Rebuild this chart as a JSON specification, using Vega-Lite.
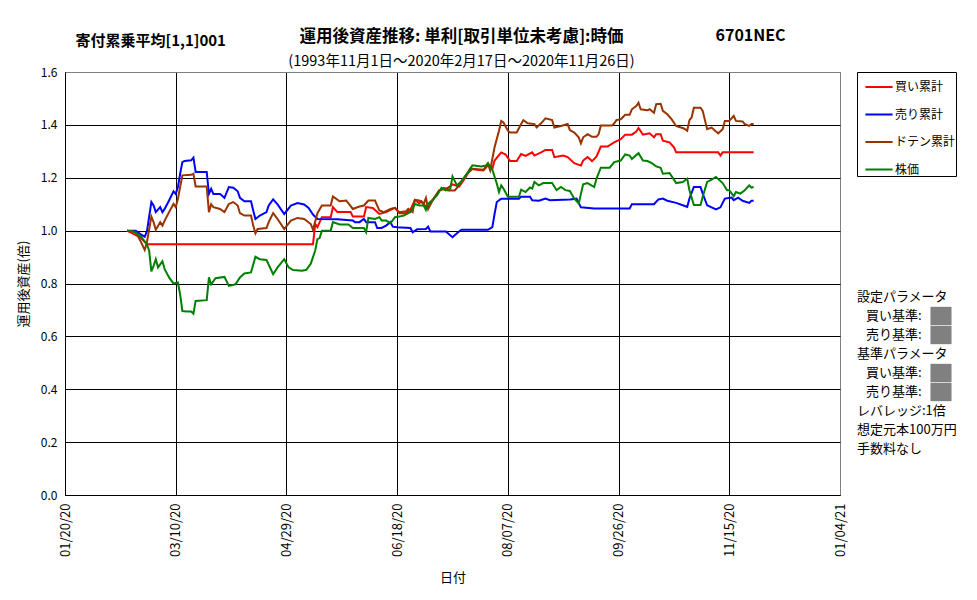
{
  "$schema": "https://vega.github.io/schema/vega-lite/v6.json",
  "autosize": "none",
  "width": 775,
  "height": 423,
  "padding": {"left": 65, "top": 72, "right": 137, "bottom": 105},
  "background": "white",
  "config": {
    "font": "Noto Sans CJK JP",
    "view": {"stroke": "#808080", "strokeWidth": 1}
  },
  "title": {
    "text": "運用後資産推移: 単利[取引単位未考慮]:時価",
    "subtitle": "(1993年11月1日～2020年2月17日～2020年11月26日)",
    "anchor": "middle",
    "frame": "group",
    "dx": 9,
    "offset": -41,
    "fontSize": 16.5,
    "fontWeight": "bold",
    "color": "black",
    "subtitleFontSize": 14.5,
    "subtitleColor": "black",
    "subtitlePadding": 9
  },
  "resolve": {"axis": {"x": "independent", "y": "independent"}},
  "layer": [
    {
      "data": {
        "values": [
          {"series": "買い累計", "date": "2020-02-17", "value": 1.000},
          {"series": "買い累計", "date": "2020-02-23", "value": 0.975},
          {"series": "買い累計", "date": "2020-02-26", "value": 0.948},
          {"series": "買い累計", "date": "2020-05-11", "value": 0.948},
          {"series": "買い累計", "date": "2020-05-12", "value": 1.025},
          {"series": "買い累計", "date": "2020-05-13", "value": 1.013},
          {"series": "買い累計", "date": "2020-05-15", "value": 1.051},
          {"series": "買い累計", "date": "2020-05-19", "value": 1.051},
          {"series": "買い累計", "date": "2020-05-20", "value": 1.089},
          {"series": "買い累計", "date": "2020-05-22", "value": 1.070},
          {"series": "買い累計", "date": "2020-05-28", "value": 1.070},
          {"series": "買い累計", "date": "2020-05-29", "value": 1.053},
          {"series": "買い累計", "date": "2020-06-03", "value": 1.053},
          {"series": "買い累計", "date": "2020-06-04", "value": 1.089},
          {"series": "買い累計", "date": "2020-06-07", "value": 1.086},
          {"series": "買い累計", "date": "2020-06-10", "value": 1.063},
          {"series": "買い累計", "date": "2020-06-13", "value": 1.070},
          {"series": "買い累計", "date": "2020-06-16", "value": 1.082},
          {"series": "買い累計", "date": "2020-06-17", "value": 1.086},
          {"series": "買い累計", "date": "2020-06-19", "value": 1.066},
          {"series": "買い累計", "date": "2020-06-22", "value": 1.066},
          {"series": "買い累計", "date": "2020-06-24", "value": 1.078},
          {"series": "買い累計", "date": "2020-06-26", "value": 1.116},
          {"series": "買い累計", "date": "2020-06-28", "value": 1.104},
          {"series": "買い累計", "date": "2020-06-29", "value": 1.111},
          {"series": "買い累計", "date": "2020-07-01", "value": 1.089},
          {"series": "買い累計", "date": "2020-07-04", "value": 1.116},
          {"series": "買い累計", "date": "2020-07-07", "value": 1.152},
          {"series": "買い累計", "date": "2020-07-11", "value": 1.162},
          {"series": "買い累計", "date": "2020-07-13", "value": 1.175},
          {"series": "買い累計", "date": "2020-07-16", "value": 1.167},
          {"series": "買い累計", "date": "2020-07-19", "value": 1.203},
          {"series": "買い累計", "date": "2020-07-21", "value": 1.234},
          {"series": "買い累計", "date": "2020-07-24", "value": 1.230},
          {"series": "買い累計", "date": "2020-07-27", "value": 1.228},
          {"series": "買い累計", "date": "2020-07-29", "value": 1.247},
          {"series": "買い累計", "date": "2020-07-31", "value": 1.234},
          {"series": "買い累計", "date": "2020-08-01", "value": 1.265},
          {"series": "買い累計", "date": "2020-08-04", "value": 1.296},
          {"series": "買い累計", "date": "2020-08-06", "value": 1.288},
          {"series": "買い累計", "date": "2020-08-08", "value": 1.263},
          {"series": "買い累計", "date": "2020-08-11", "value": 1.263},
          {"series": "買い累計", "date": "2020-08-13", "value": 1.290},
          {"series": "買い累計", "date": "2020-08-15", "value": 1.283},
          {"series": "買い累計", "date": "2020-08-18", "value": 1.296},
          {"series": "買い累計", "date": "2020-08-19", "value": 1.284},
          {"series": "買い累計", "date": "2020-08-22", "value": 1.296},
          {"series": "買い累計", "date": "2020-08-24", "value": 1.305},
          {"series": "買い累計", "date": "2020-08-27", "value": 1.305},
          {"series": "買い累計", "date": "2020-08-28", "value": 1.278},
          {"series": "買い累計", "date": "2020-09-01", "value": 1.284},
          {"series": "買い累計", "date": "2020-09-03", "value": 1.278},
          {"series": "買い累計", "date": "2020-09-06", "value": 1.255},
          {"series": "買い累計", "date": "2020-09-09", "value": 1.246},
          {"series": "買い累計", "date": "2020-09-10", "value": 1.265},
          {"series": "買い累計", "date": "2020-09-12", "value": 1.278},
          {"series": "買い累計", "date": "2020-09-14", "value": 1.263},
          {"series": "買い累計", "date": "2020-09-16", "value": 1.280},
          {"series": "買い累計", "date": "2020-09-18", "value": 1.318},
          {"series": "買い累計", "date": "2020-09-21", "value": 1.318},
          {"series": "買い累計", "date": "2020-09-24", "value": 1.334},
          {"series": "買い累計", "date": "2020-09-27", "value": 1.346},
          {"series": "買い累計", "date": "2020-09-29", "value": 1.363},
          {"series": "買い累計", "date": "2020-10-02", "value": 1.363},
          {"series": "買い累計", "date": "2020-10-04", "value": 1.375},
          {"series": "買い累計", "date": "2020-10-05", "value": 1.388},
          {"series": "買い累計", "date": "2020-10-07", "value": 1.363},
          {"series": "買い累計", "date": "2020-10-10", "value": 1.368},
          {"series": "買い累計", "date": "2020-10-12", "value": 1.353},
          {"series": "買い累計", "date": "2020-10-13", "value": 1.365},
          {"series": "買い累計", "date": "2020-10-15", "value": 1.365},
          {"series": "買い累計", "date": "2020-10-16", "value": 1.340},
          {"series": "買い累計", "date": "2020-10-19", "value": 1.334},
          {"series": "買い累計", "date": "2020-10-21", "value": 1.315},
          {"series": "買い累計", "date": "2020-10-22", "value": 1.296},
          {"series": "買い累計", "date": "2020-11-10", "value": 1.296},
          {"series": "買い累計", "date": "2020-11-11", "value": 1.284},
          {"series": "買い累計", "date": "2020-11-12", "value": 1.296},
          {"series": "買い累計", "date": "2020-11-26", "value": 1.296},

          {"series": "売り累計", "date": "2020-02-17", "value": 1.000},
          {"series": "売り累計", "date": "2020-02-21", "value": 1.000},
          {"series": "売り累計", "date": "2020-02-23", "value": 0.987},
          {"series": "売り累計", "date": "2020-02-25", "value": 0.977},
          {"series": "売り累計", "date": "2020-02-26", "value": 0.997},
          {"series": "売り累計", "date": "2020-02-28", "value": 1.108},
          {"series": "売り累計", "date": "2020-02-29", "value": 1.095},
          {"series": "売り累計", "date": "2020-03-01", "value": 1.070},
          {"series": "売り累計", "date": "2020-03-03", "value": 1.089},
          {"series": "売り累計", "date": "2020-03-04", "value": 1.070},
          {"series": "売り累計", "date": "2020-03-05", "value": 1.082},
          {"series": "売り累計", "date": "2020-03-07", "value": 1.114},
          {"series": "売り累計", "date": "2020-03-09", "value": 1.149},
          {"series": "売り累計", "date": "2020-03-10", "value": 1.139},
          {"series": "売り累計", "date": "2020-03-11", "value": 1.165},
          {"series": "売り累計", "date": "2020-03-12", "value": 1.215},
          {"series": "売り累計", "date": "2020-03-13", "value": 1.259},
          {"series": "売り累計", "date": "2020-03-14", "value": 1.263},
          {"series": "売り累計", "date": "2020-03-17", "value": 1.266},
          {"series": "売り累計", "date": "2020-03-18", "value": 1.276},
          {"series": "売り累計", "date": "2020-03-19", "value": 1.222},
          {"series": "売り累計", "date": "2020-03-24", "value": 1.222},
          {"series": "売り累計", "date": "2020-03-25", "value": 1.139},
          {"series": "売り累計", "date": "2020-03-26", "value": 1.158},
          {"series": "売り累計", "date": "2020-03-27", "value": 1.139},
          {"series": "売り累計", "date": "2020-03-30", "value": 1.139},
          {"series": "売り累計", "date": "2020-04-01", "value": 1.124},
          {"series": "売り累計", "date": "2020-04-03", "value": 1.165},
          {"series": "売り累計", "date": "2020-04-05", "value": 1.162},
          {"series": "売り累計", "date": "2020-04-07", "value": 1.149},
          {"series": "売り累計", "date": "2020-04-08", "value": 1.124},
          {"series": "売り累計", "date": "2020-04-10", "value": 1.111},
          {"series": "売り累計", "date": "2020-04-13", "value": 1.111},
          {"series": "売り累計", "date": "2020-04-14", "value": 1.076},
          {"series": "売り累計", "date": "2020-04-15", "value": 1.044},
          {"series": "売り累計", "date": "2020-04-17", "value": 1.057},
          {"series": "売り累計", "date": "2020-04-20", "value": 1.070},
          {"series": "売り累計", "date": "2020-04-21", "value": 1.095},
          {"series": "売り累計", "date": "2020-04-23", "value": 1.118},
          {"series": "売り累計", "date": "2020-04-25", "value": 1.099},
          {"series": "売り累計", "date": "2020-04-28", "value": 1.063},
          {"series": "売り累計", "date": "2020-05-01", "value": 1.095},
          {"series": "売り累計", "date": "2020-05-04", "value": 1.104},
          {"series": "売り累計", "date": "2020-05-07", "value": 1.099},
          {"series": "売り累計", "date": "2020-05-09", "value": 1.086},
          {"series": "売り累計", "date": "2020-05-11", "value": 1.061},
          {"series": "売り累計", "date": "2020-05-13", "value": 1.044},
          {"series": "売り累計", "date": "2020-05-22", "value": 1.043},
          {"series": "売り累計", "date": "2020-05-29", "value": 1.038},
          {"series": "売り累計", "date": "2020-05-30", "value": 1.032},
          {"series": "売り累計", "date": "2020-06-01", "value": 1.032},
          {"series": "売り累計", "date": "2020-06-03", "value": 1.044},
          {"series": "売り累計", "date": "2020-06-04", "value": 1.032},
          {"series": "売り累計", "date": "2020-06-08", "value": 1.032},
          {"series": "売り累計", "date": "2020-06-09", "value": 1.010},
          {"series": "売り累計", "date": "2020-06-11", "value": 1.010},
          {"series": "売り累計", "date": "2020-06-13", "value": 1.019},
          {"series": "売り累計", "date": "2020-06-15", "value": 1.032},
          {"series": "売り累計", "date": "2020-06-16", "value": 1.015},
          {"series": "売り累計", "date": "2020-06-18", "value": 1.013},
          {"series": "売り累計", "date": "2020-06-24", "value": 1.010},
          {"series": "売り累計", "date": "2020-06-25", "value": 0.994},
          {"series": "売り累計", "date": "2020-06-27", "value": 1.005},
          {"series": "売り累計", "date": "2020-07-01", "value": 1.006},
          {"series": "売り累計", "date": "2020-07-02", "value": 1.015},
          {"series": "売り累計", "date": "2020-07-03", "value": 0.997},
          {"series": "売り累計", "date": "2020-07-10", "value": 0.997},
          {"series": "売り累計", "date": "2020-07-13", "value": 0.975},
          {"series": "売り累計", "date": "2020-07-15", "value": 0.990},
          {"series": "売り累計", "date": "2020-07-17", "value": 1.003},
          {"series": "売り累計", "date": "2020-07-29", "value": 1.003},
          {"series": "売り累計", "date": "2020-07-31", "value": 1.013},
          {"series": "売り累計", "date": "2020-08-01", "value": 1.063},
          {"series": "売り累計", "date": "2020-08-02", "value": 1.108},
          {"series": "売り累計", "date": "2020-08-04", "value": 1.121},
          {"series": "売り累計", "date": "2020-08-12", "value": 1.121},
          {"series": "売り累計", "date": "2020-08-13", "value": 1.128},
          {"series": "売り累計", "date": "2020-08-17", "value": 1.128},
          {"series": "売り累計", "date": "2020-08-18", "value": 1.115},
          {"series": "売り累計", "date": "2020-08-21", "value": 1.113},
          {"series": "売り累計", "date": "2020-08-24", "value": 1.121},
          {"series": "売り累計", "date": "2020-08-26", "value": 1.115},
          {"series": "売り累計", "date": "2020-09-04", "value": 1.118},
          {"series": "売り累計", "date": "2020-09-07", "value": 1.121},
          {"series": "売り累計", "date": "2020-09-09", "value": 1.088},
          {"series": "売り累計", "date": "2020-09-15", "value": 1.084},
          {"series": "売り累計", "date": "2020-10-01", "value": 1.084},
          {"series": "売り累計", "date": "2020-10-02", "value": 1.100},
          {"series": "売り累計", "date": "2020-10-12", "value": 1.100},
          {"series": "売り累計", "date": "2020-10-14", "value": 1.118},
          {"series": "売り累計", "date": "2020-10-16", "value": 1.121},
          {"series": "売り累計", "date": "2020-10-18", "value": 1.113},
          {"series": "売り累計", "date": "2020-10-22", "value": 1.105},
          {"series": "売り累計", "date": "2020-10-25", "value": 1.096},
          {"series": "売り累計", "date": "2020-10-27", "value": 1.090},
          {"series": "売り累計", "date": "2020-10-28", "value": 1.121},
          {"series": "売り累計", "date": "2020-10-30", "value": 1.165},
          {"series": "売り累計", "date": "2020-11-02", "value": 1.165},
          {"series": "売り累計", "date": "2020-11-03", "value": 1.140},
          {"series": "売り累計", "date": "2020-11-05", "value": 1.096},
          {"series": "売り累計", "date": "2020-11-07", "value": 1.088},
          {"series": "売り累計", "date": "2020-11-09", "value": 1.080},
          {"series": "売り累計", "date": "2020-11-11", "value": 1.088},
          {"series": "売り累計", "date": "2020-11-13", "value": 1.121},
          {"series": "売り累計", "date": "2020-11-16", "value": 1.125},
          {"series": "売り累計", "date": "2020-11-17", "value": 1.115},
          {"series": "売り累計", "date": "2020-11-19", "value": 1.125},
          {"series": "売り累計", "date": "2020-11-21", "value": 1.113},
          {"series": "売り累計", "date": "2020-11-24", "value": 1.105},
          {"series": "売り累計", "date": "2020-11-25", "value": 1.113},
          {"series": "売り累計", "date": "2020-11-26", "value": 1.113},

          {"series": "ドテン累計", "date": "2020-02-17", "value": 1.000},
          {"series": "ドテン累計", "date": "2020-02-21", "value": 0.994},
          {"series": "ドテン累計", "date": "2020-02-23", "value": 0.962},
          {"series": "ドテン累計", "date": "2020-02-25", "value": 0.927},
          {"series": "ドテン累計", "date": "2020-02-26", "value": 0.956},
          {"series": "ドテン累計", "date": "2020-02-28", "value": 1.053},
          {"series": "ドテン累計", "date": "2020-02-29", "value": 1.032},
          {"series": "ドテン累計", "date": "2020-03-01", "value": 1.003},
          {"series": "ドテン累計", "date": "2020-03-03", "value": 1.032},
          {"series": "ドテン累計", "date": "2020-03-04", "value": 1.019},
          {"series": "ドテン累計", "date": "2020-03-05", "value": 1.038},
          {"series": "ドテン累計", "date": "2020-03-07", "value": 1.070},
          {"series": "ドテン累計", "date": "2020-03-09", "value": 1.101},
          {"series": "ドテン累計", "date": "2020-03-10", "value": 1.089},
          {"series": "ドテン累計", "date": "2020-03-11", "value": 1.120},
          {"series": "ドテン累計", "date": "2020-03-12", "value": 1.165},
          {"series": "ドテン累計", "date": "2020-03-13", "value": 1.209},
          {"series": "ドテン累計", "date": "2020-03-17", "value": 1.211},
          {"series": "ドテン累計", "date": "2020-03-18", "value": 1.215},
          {"series": "ドテン累計", "date": "2020-03-19", "value": 1.167},
          {"series": "ドテン累計", "date": "2020-03-24", "value": 1.167},
          {"series": "ドテン累計", "date": "2020-03-25", "value": 1.070},
          {"series": "ドテン累計", "date": "2020-03-26", "value": 1.100},
          {"series": "ドテン累計", "date": "2020-03-27", "value": 1.089},
          {"series": "ドテン累計", "date": "2020-03-30", "value": 1.082},
          {"series": "ドテン累計", "date": "2020-04-01", "value": 1.070},
          {"series": "ドテン累計", "date": "2020-04-03", "value": 1.101},
          {"series": "ドテン累計", "date": "2020-04-05", "value": 1.108},
          {"series": "ドテン累計", "date": "2020-04-07", "value": 1.095},
          {"series": "ドテン累計", "date": "2020-04-08", "value": 1.066},
          {"series": "ドテン累計", "date": "2020-04-10", "value": 1.057},
          {"series": "ドテン累計", "date": "2020-04-13", "value": 1.057},
          {"series": "ドテン累計", "date": "2020-04-14", "value": 1.019},
          {"series": "ドテン累計", "date": "2020-04-15", "value": 0.990},
          {"series": "ドテン累計", "date": "2020-04-16", "value": 1.006},
          {"series": "ドテン累計", "date": "2020-04-20", "value": 1.010},
          {"series": "ドテン累計", "date": "2020-04-21", "value": 1.032},
          {"series": "ドテン累計", "date": "2020-04-23", "value": 1.066},
          {"series": "ドテン累計", "date": "2020-04-25", "value": 1.044},
          {"series": "ドテン累計", "date": "2020-04-28", "value": 1.006},
          {"series": "ドテン累計", "date": "2020-05-01", "value": 1.038},
          {"series": "ドテン累計", "date": "2020-05-04", "value": 1.048},
          {"series": "ドテン累計", "date": "2020-05-07", "value": 1.044},
          {"series": "ドテン累計", "date": "2020-05-10", "value": 1.025},
          {"series": "ドテン累計", "date": "2020-05-11", "value": 1.003},
          {"series": "ドテン累計", "date": "2020-05-13", "value": 1.066},
          {"series": "ドテン累計", "date": "2020-05-15", "value": 1.095},
          {"series": "ドテン累計", "date": "2020-05-19", "value": 1.095},
          {"series": "ドテン累計", "date": "2020-05-20", "value": 1.129},
          {"series": "ドテン累計", "date": "2020-05-23", "value": 1.111},
          {"series": "ドテン累計", "date": "2020-05-26", "value": 1.114},
          {"series": "ドテン累計", "date": "2020-05-29", "value": 1.082},
          {"series": "ドテン累計", "date": "2020-06-01", "value": 1.091},
          {"series": "ドテン累計", "date": "2020-06-03", "value": 1.095},
          {"series": "ドテン累計", "date": "2020-06-05", "value": 1.114},
          {"series": "ドテン累計", "date": "2020-06-08", "value": 1.114},
          {"series": "ドテン累計", "date": "2020-06-10", "value": 1.076},
          {"series": "ドテン累計", "date": "2020-06-12", "value": 1.070},
          {"series": "ドテン累計", "date": "2020-06-15", "value": 1.082},
          {"series": "ドテン累計", "date": "2020-06-17", "value": 1.086},
          {"series": "ドテン累計", "date": "2020-06-19", "value": 1.070},
          {"series": "ドテン累計", "date": "2020-06-22", "value": 1.073},
          {"series": "ドテン累計", "date": "2020-06-23", "value": 1.082},
          {"series": "ドテン累計", "date": "2020-06-25", "value": 1.070},
          {"series": "ドテン累計", "date": "2020-06-26", "value": 1.116},
          {"series": "ドテン累計", "date": "2020-06-28", "value": 1.114},
          {"series": "ドテン累計", "date": "2020-06-30", "value": 1.101},
          {"series": "ドテン累計", "date": "2020-07-01", "value": 1.124},
          {"series": "ドテン累計", "date": "2020-07-02", "value": 1.082},
          {"series": "ドテン累計", "date": "2020-07-04", "value": 1.114},
          {"series": "ドテン累計", "date": "2020-07-07", "value": 1.152},
          {"series": "ドテン累計", "date": "2020-07-09", "value": 1.162},
          {"series": "ドテン累計", "date": "2020-07-11", "value": 1.152},
          {"series": "ドテン累計", "date": "2020-07-14", "value": 1.152},
          {"series": "ドテン累計", "date": "2020-07-16", "value": 1.171},
          {"series": "ドテン累計", "date": "2020-07-19", "value": 1.209},
          {"series": "ドテン累計", "date": "2020-07-22", "value": 1.234},
          {"series": "ドテン累計", "date": "2020-07-27", "value": 1.230},
          {"series": "ドテン累計", "date": "2020-07-29", "value": 1.253},
          {"series": "ドテン累計", "date": "2020-07-30", "value": 1.228},
          {"series": "ドテン累計", "date": "2020-08-01", "value": 1.315},
          {"series": "ドテン累計", "date": "2020-08-03", "value": 1.378},
          {"series": "ドテン累計", "date": "2020-08-04", "value": 1.415},
          {"series": "ドテン累計", "date": "2020-08-05", "value": 1.409},
          {"series": "ドテン累計", "date": "2020-08-07", "value": 1.378},
          {"series": "ドテン累計", "date": "2020-08-08", "value": 1.371},
          {"series": "ドテン累計", "date": "2020-08-11", "value": 1.371},
          {"series": "ドテン累計", "date": "2020-08-13", "value": 1.403},
          {"series": "ドテン累計", "date": "2020-08-14", "value": 1.418},
          {"series": "ドテン累計", "date": "2020-08-16", "value": 1.406},
          {"series": "ドテン累計", "date": "2020-08-19", "value": 1.403},
          {"series": "ドテン累計", "date": "2020-08-20", "value": 1.390},
          {"series": "ドテン累計", "date": "2020-08-22", "value": 1.406},
          {"series": "ドテン累計", "date": "2020-08-24", "value": 1.425},
          {"series": "ドテン累計", "date": "2020-08-27", "value": 1.418},
          {"series": "ドテン累計", "date": "2020-08-28", "value": 1.390},
          {"series": "ドテン累計", "date": "2020-08-31", "value": 1.396},
          {"series": "ドテン累計", "date": "2020-09-03", "value": 1.403},
          {"series": "ドテン累計", "date": "2020-09-04", "value": 1.380},
          {"series": "ドテン累計", "date": "2020-09-06", "value": 1.371},
          {"series": "ドテン累計", "date": "2020-09-08", "value": 1.353},
          {"series": "ドテン累計", "date": "2020-09-09", "value": 1.330},
          {"series": "ドテン累計", "date": "2020-09-10", "value": 1.353},
          {"series": "ドテン累計", "date": "2020-09-12", "value": 1.365},
          {"series": "ドテン累計", "date": "2020-09-14", "value": 1.355},
          {"series": "ドテン累計", "date": "2020-09-16", "value": 1.355},
          {"series": "ドテン累計", "date": "2020-09-17", "value": 1.365},
          {"series": "ドテン累計", "date": "2020-09-18", "value": 1.398},
          {"series": "ドテン累計", "date": "2020-09-23", "value": 1.398},
          {"series": "ドテン累計", "date": "2020-09-24", "value": 1.405},
          {"series": "ドテン累計", "date": "2020-09-25", "value": 1.418},
          {"series": "ドテン累計", "date": "2020-09-27", "value": 1.421},
          {"series": "ドテン累計", "date": "2020-09-29", "value": 1.438},
          {"series": "ドテン累計", "date": "2020-10-01", "value": 1.438},
          {"series": "ドテン累計", "date": "2020-10-02", "value": 1.459},
          {"series": "ドテン累計", "date": "2020-10-04", "value": 1.471},
          {"series": "ドテン累計", "date": "2020-10-05", "value": 1.484},
          {"series": "ドテン累計", "date": "2020-10-06", "value": 1.459},
          {"series": "ドテン累計", "date": "2020-10-09", "value": 1.455},
          {"series": "ドテン累計", "date": "2020-10-10", "value": 1.459},
          {"series": "ドテン累計", "date": "2020-10-12", "value": 1.446},
          {"series": "ドテン累計", "date": "2020-10-13", "value": 1.478},
          {"series": "ドテン累計", "date": "2020-10-15", "value": 1.480},
          {"series": "ドテン累計", "date": "2020-10-16", "value": 1.453},
          {"series": "ドテン累計", "date": "2020-10-18", "value": 1.440},
          {"series": "ドテン累計", "date": "2020-10-20", "value": 1.421},
          {"series": "ドテン累計", "date": "2020-10-22", "value": 1.396},
          {"series": "ドテン累計", "date": "2020-10-23", "value": 1.393},
          {"series": "ドテン累計", "date": "2020-10-25", "value": 1.388},
          {"series": "ドテン累計", "date": "2020-10-26", "value": 1.384},
          {"series": "ドテン累計", "date": "2020-10-27", "value": 1.378},
          {"series": "ドテン累計", "date": "2020-10-28", "value": 1.418},
          {"series": "ドテン累計", "date": "2020-10-29", "value": 1.428},
          {"series": "ドテン累計", "date": "2020-10-30", "value": 1.465},
          {"series": "ドテン累計", "date": "2020-11-02", "value": 1.465},
          {"series": "ドテン累計", "date": "2020-11-03", "value": 1.453},
          {"series": "ドテン累計", "date": "2020-11-04", "value": 1.418},
          {"series": "ドテン累計", "date": "2020-11-05", "value": 1.384},
          {"series": "ドテン累計", "date": "2020-11-07", "value": 1.390},
          {"series": "ドテン累計", "date": "2020-11-09", "value": 1.375},
          {"series": "ドテン累計", "date": "2020-11-10", "value": 1.368},
          {"series": "ドテン累計", "date": "2020-11-12", "value": 1.384},
          {"series": "ドテン累計", "date": "2020-11-13", "value": 1.415},
          {"series": "ドテン累計", "date": "2020-11-15", "value": 1.415},
          {"series": "ドテン累計", "date": "2020-11-17", "value": 1.434},
          {"series": "ドテン累計", "date": "2020-11-18", "value": 1.415},
          {"series": "ドテン累計", "date": "2020-11-21", "value": 1.413},
          {"series": "ドテン累計", "date": "2020-11-22", "value": 1.403},
          {"series": "ドテン累計", "date": "2020-11-24", "value": 1.396},
          {"series": "ドテン累計", "date": "2020-11-25", "value": 1.403},
          {"series": "ドテン累計", "date": "2020-11-26", "value": 1.403},

          {"series": "株価", "date": "2020-02-17", "value": 1.000},
          {"series": "株価", "date": "2020-02-20", "value": 0.997},
          {"series": "株価", "date": "2020-02-23", "value": 0.981},
          {"series": "株価", "date": "2020-02-26", "value": 0.949},
          {"series": "株価", "date": "2020-02-27", "value": 0.924},
          {"series": "株価", "date": "2020-02-28", "value": 0.846},
          {"series": "株価", "date": "2020-02-29", "value": 0.867},
          {"series": "株価", "date": "2020-03-01", "value": 0.892},
          {"series": "株価", "date": "2020-03-02", "value": 0.861},
          {"series": "株価", "date": "2020-03-04", "value": 0.884},
          {"series": "株価", "date": "2020-03-05", "value": 0.854},
          {"series": "株価", "date": "2020-03-07", "value": 0.823},
          {"series": "株価", "date": "2020-03-09", "value": 0.800},
          {"series": "株価", "date": "2020-03-11", "value": 0.804},
          {"series": "株価", "date": "2020-03-12", "value": 0.759},
          {"series": "株価", "date": "2020-03-13", "value": 0.696},
          {"series": "株価", "date": "2020-03-15", "value": 0.694},
          {"series": "株価", "date": "2020-03-17", "value": 0.694},
          {"series": "株価", "date": "2020-03-18", "value": 0.686},
          {"series": "株価", "date": "2020-03-19", "value": 0.734},
          {"series": "株価", "date": "2020-03-24", "value": 0.737},
          {"series": "株価", "date": "2020-03-25", "value": 0.823},
          {"series": "株価", "date": "2020-03-26", "value": 0.797},
          {"series": "株価", "date": "2020-03-28", "value": 0.820},
          {"series": "株価", "date": "2020-04-01", "value": 0.825},
          {"series": "株価", "date": "2020-04-03", "value": 0.791},
          {"series": "株価", "date": "2020-04-06", "value": 0.797},
          {"series": "株価", "date": "2020-04-08", "value": 0.823},
          {"series": "株価", "date": "2020-04-10", "value": 0.838},
          {"series": "株価", "date": "2020-04-13", "value": 0.842},
          {"series": "株価", "date": "2020-04-15", "value": 0.901},
          {"series": "株価", "date": "2020-04-17", "value": 0.892},
          {"series": "株価", "date": "2020-04-20", "value": 0.889},
          {"series": "株価", "date": "2020-04-23", "value": 0.835},
          {"series": "株価", "date": "2020-04-25", "value": 0.861},
          {"series": "株価", "date": "2020-04-28", "value": 0.892},
          {"series": "株価", "date": "2020-04-30", "value": 0.861},
          {"series": "株価", "date": "2020-05-02", "value": 0.851},
          {"series": "株価", "date": "2020-05-06", "value": 0.848},
          {"series": "株価", "date": "2020-05-08", "value": 0.852},
          {"series": "株価", "date": "2020-05-10", "value": 0.875},
          {"series": "株価", "date": "2020-05-12", "value": 0.925},
          {"series": "株価", "date": "2020-05-13", "value": 0.968},
          {"series": "株価", "date": "2020-05-14", "value": 0.972},
          {"series": "株価", "date": "2020-05-15", "value": 1.000},
          {"series": "株価", "date": "2020-05-19", "value": 1.000},
          {"series": "株価", "date": "2020-05-20", "value": 1.032},
          {"series": "株価", "date": "2020-05-23", "value": 1.023},
          {"series": "株価", "date": "2020-05-27", "value": 1.023},
          {"series": "株価", "date": "2020-05-29", "value": 1.010},
          {"series": "株価", "date": "2020-06-03", "value": 1.010},
          {"series": "株価", "date": "2020-06-04", "value": 0.994},
          {"series": "株価", "date": "2020-06-05", "value": 1.048},
          {"series": "株価", "date": "2020-06-08", "value": 1.044},
          {"series": "株価", "date": "2020-06-10", "value": 1.051},
          {"series": "株価", "date": "2020-06-11", "value": 1.038},
          {"series": "株価", "date": "2020-06-13", "value": 1.038},
          {"series": "株価", "date": "2020-06-15", "value": 1.028},
          {"series": "株価", "date": "2020-06-17", "value": 1.051},
          {"series": "株価", "date": "2020-06-19", "value": 1.053},
          {"series": "株価", "date": "2020-06-21", "value": 1.057},
          {"series": "株価", "date": "2020-06-24", "value": 1.070},
          {"series": "株価", "date": "2020-06-26", "value": 1.101},
          {"series": "株価", "date": "2020-06-28", "value": 1.095},
          {"series": "株価", "date": "2020-06-30", "value": 1.095},
          {"series": "株価", "date": "2020-07-01", "value": 1.078},
          {"series": "株価", "date": "2020-07-02", "value": 1.101},
          {"series": "株価", "date": "2020-07-04", "value": 1.116},
          {"series": "株価", "date": "2020-07-06", "value": 1.133},
          {"series": "株価", "date": "2020-07-08", "value": 1.162},
          {"series": "株価", "date": "2020-07-10", "value": 1.152},
          {"series": "株価", "date": "2020-07-12", "value": 1.158},
          {"series": "株価", "date": "2020-07-13", "value": 1.205},
          {"series": "株価", "date": "2020-07-15", "value": 1.171},
          {"series": "株価", "date": "2020-07-17", "value": 1.187},
          {"series": "株価", "date": "2020-07-19", "value": 1.209},
          {"series": "株価", "date": "2020-07-22", "value": 1.247},
          {"series": "株価", "date": "2020-07-26", "value": 1.243},
          {"series": "株価", "date": "2020-07-28", "value": 1.246},
          {"series": "株価", "date": "2020-07-29", "value": 1.255},
          {"series": "株価", "date": "2020-07-31", "value": 1.230},
          {"series": "株価", "date": "2020-08-02", "value": 1.178},
          {"series": "株価", "date": "2020-08-03", "value": 1.146},
          {"series": "株価", "date": "2020-08-04", "value": 1.171},
          {"series": "株価", "date": "2020-08-05", "value": 1.159},
          {"series": "株価", "date": "2020-08-07", "value": 1.128},
          {"series": "株価", "date": "2020-08-12", "value": 1.128},
          {"series": "株価", "date": "2020-08-13", "value": 1.155},
          {"series": "株価", "date": "2020-08-15", "value": 1.146},
          {"series": "株価", "date": "2020-08-17", "value": 1.163},
          {"series": "株価", "date": "2020-08-18", "value": 1.159},
          {"series": "株価", "date": "2020-08-19", "value": 1.184},
          {"series": "株価", "date": "2020-08-21", "value": 1.171},
          {"series": "株価", "date": "2020-08-23", "value": 1.180},
          {"series": "株価", "date": "2020-08-27", "value": 1.180},
          {"series": "株価", "date": "2020-08-29", "value": 1.153},
          {"series": "株価", "date": "2020-08-31", "value": 1.165},
          {"series": "株価", "date": "2020-09-02", "value": 1.153},
          {"series": "株価", "date": "2020-09-04", "value": 1.150},
          {"series": "株価", "date": "2020-09-06", "value": 1.121},
          {"series": "株価", "date": "2020-09-08", "value": 1.103},
          {"series": "株価", "date": "2020-09-10", "value": 1.175},
          {"series": "株価", "date": "2020-09-12", "value": 1.180},
          {"series": "株価", "date": "2020-09-15", "value": 1.165},
          {"series": "株価", "date": "2020-09-16", "value": 1.196},
          {"series": "株価", "date": "2020-09-18", "value": 1.238},
          {"series": "株価", "date": "2020-09-22", "value": 1.238},
          {"series": "株価", "date": "2020-09-24", "value": 1.259},
          {"series": "株価", "date": "2020-09-27", "value": 1.265},
          {"series": "株価", "date": "2020-09-29", "value": 1.288},
          {"series": "株価", "date": "2020-10-01", "value": 1.284},
          {"series": "株価", "date": "2020-10-02", "value": 1.271},
          {"series": "株価", "date": "2020-10-05", "value": 1.293},
          {"series": "株価", "date": "2020-10-07", "value": 1.265},
          {"series": "株価", "date": "2020-10-09", "value": 1.263},
          {"series": "株価", "date": "2020-10-11", "value": 1.255},
          {"series": "株価", "date": "2020-10-13", "value": 1.243},
          {"series": "株価", "date": "2020-10-15", "value": 1.238},
          {"series": "株価", "date": "2020-10-16", "value": 1.215},
          {"series": "株価", "date": "2020-10-19", "value": 1.218},
          {"series": "株価", "date": "2020-10-21", "value": 1.193},
          {"series": "株価", "date": "2020-10-22", "value": 1.180},
          {"series": "株価", "date": "2020-10-25", "value": 1.184},
          {"series": "株価", "date": "2020-10-27", "value": 1.196},
          {"series": "株価", "date": "2020-10-28", "value": 1.153},
          {"series": "株価", "date": "2020-10-30", "value": 1.097},
          {"series": "株価", "date": "2020-11-02", "value": 1.097},
          {"series": "株価", "date": "2020-11-03", "value": 1.128},
          {"series": "株価", "date": "2020-11-05", "value": 1.184},
          {"series": "株価", "date": "2020-11-07", "value": 1.193},
          {"series": "株価", "date": "2020-11-09", "value": 1.203},
          {"series": "株価", "date": "2020-11-12", "value": 1.180},
          {"series": "株価", "date": "2020-11-14", "value": 1.153},
          {"series": "株価", "date": "2020-11-15", "value": 1.153},
          {"series": "株価", "date": "2020-11-17", "value": 1.130},
          {"series": "株価", "date": "2020-11-18", "value": 1.146},
          {"series": "株価", "date": "2020-11-20", "value": 1.140},
          {"series": "株価", "date": "2020-11-22", "value": 1.153},
          {"series": "株価", "date": "2020-11-24", "value": 1.171},
          {"series": "株価", "date": "2020-11-25", "value": 1.163},
          {"series": "株価", "date": "2020-11-26", "value": 1.165}
        ]
      },
      "mark": {"type": "line", "strokeWidth": 2},
      "encoding": {
        "x": {
          "field": "date",
          "type": "temporal",
          "scale": {
            "type": "utc",
            "domain": [
              {"year": 2020, "month": 1, "date": 20, "utc": true},
              {"year": 2021, "month": 1, "date": 4, "utc": true}
            ]
          },
          "axis": {
            "title": "日付",
            "values": [
              {"year": 2020, "month": 1, "date": 20, "utc": true},
              {"year": 2020, "month": 3, "date": 10, "utc": true},
              {"year": 2020, "month": 4, "date": 29, "utc": true},
              {"year": 2020, "month": 6, "date": 18, "utc": true},
              {"year": 2020, "month": 8, "date": 7, "utc": true},
              {"year": 2020, "month": 9, "date": 26, "utc": true},
              {"year": 2020, "month": 11, "date": 15, "utc": true},
              {"year": 2021, "month": 1, "date": 4, "utc": true}
            ],
            "format": "%m/%d/%y",
            "labelAngle": -90,
            "labelFlush": false,
            "labelOverlap": false,
            "labelPadding": 8,
            "labelFontSize": 13,
            "labelColor": "black",
            "ticks": false,
            "domainColor": "black",
            "grid": true,
            "gridColor": {"condition": {"test": "datum.value > 1609000000000", "value": "#808080"}, "value": "black"},
            "gridOpacity": 1,
            "titleFontSize": 13,
            "titleFontWeight": "normal",
            "titleColor": "black",
            "titlePadding": 15
          }
        },
        "y": {
          "field": "value",
          "type": "quantitative",
          "scale": {"domain": [0, 1.6], "nice": false},
          "axis": {
            "title": "運用後資産(倍)",
            "values": [0, 0.2, 0.4, 0.6, 0.8, 1, 1.2, 1.4, 1.6],
            "format": ".1f",
            "ticks": false,
            "labelPadding": 8,
            "labelFontSize": 12,
            "labelColor": "black",
            "domainColor": "black",
            "grid": true,
            "gridColor": {"condition": {"test": "datum.value >= 1.59", "value": "#808080"}, "value": "black"},
            "gridOpacity": 1,
            "titleFontSize": 13,
            "titleFontWeight": "normal",
            "titleColor": "black",
            "titlePadding": 10
          }
        },
        "color": {
          "field": "series",
          "type": "nominal",
          "scale": {
            "domain": ["買い累計", "売り累計", "ドテン累計", "株価"],
            "range": ["#ff0000", "#0000ff", "#993300", "#008000"]
          },
          "legend": {
            "orient": "none",
            "legendX": 792,
            "legendY": 0,
            "title": null,
            "direction": "vertical",
            "padding": 0,
            "strokeColor": "black",
            "fillColor": "white",
            "symbolType": "stroke",
            "symbolSize": 740,
            "symbolStrokeWidth": 2,
            "symbolOffset": 7,
            "rowPadding": 6.5,
            "labelOffset": 1,
            "labelFontSize": 12,
            "labelColor": "black",
            "labelExpr": "datum.label + '\u2002'"
          }
        }
      }
    },
    {
      "data": {
        "values": [
          {"param": "設定パラメータ"},
          {"param": "\u200b\u2002\u2009買い基準:"},
          {"param": "\u200b\u2002\u2009売り基準:"},
          {"param": "基準パラメータ"},
          {"param": "\u200b\u2009\u2002買い基準:"},
          {"param": "\u200b\u2009\u2002売り基準:"},
          {"param": "レバレッジ:1倍"},
          {"param": "想定元本100万円"},
          {"param": "手数料なし"}
        ]
      },
      "mark": {"type": "point", "filled": true, "size": 0, "opacity": 1},
      "encoding": {
        "x": {
          "datum": {"year": 2020, "month": 6, "date": 1, "utc": true},
          "type": "temporal",
          "scale": {"type": "utc"},
          "axis": {
            "orient": "top",
            "title": "寄付累乗平均[1,1]001",
            "labels": false,
            "ticks": false,
            "domain": false,
            "grid": false,
            "titleX": 10,
            "titleY": -32,
            "titleAngle": 0,
            "titleAlign": "left",
            "titleBaseline": "middle",
            "titleFontSize": 15,
            "titleFontWeight": "bold",
            "titleColor": "black"
          }
        },
        "y": {
          "datum": 1,
          "type": "quantitative",
          "axis": {
            "orient": "right",
            "title": "6701NEC",
            "labels": false,
            "ticks": false,
            "domain": false,
            "grid": false,
            "titleX": -125,
            "titleY": -37,
            "titleAngle": 0,
            "titleAlign": "left",
            "titleBaseline": "middle",
            "titleFontSize": 16,
            "titleFontWeight": "bold",
            "titleColor": "black"
          }
        },
        "fill": {
          "field": "param",
          "type": "nominal",
          "scale": {
            "domain": [
              "設定パラメータ",
              "\u200b\u2002\u2009買い基準:",
              "\u200b\u2002\u2009売り基準:",
              "基準パラメータ",
              "\u200b\u2009\u2002買い基準:",
              "\u200b\u2009\u2002売り基準:",
              "レバレッジ:1倍",
              "想定元本100万円",
              "手数料なし"
            ],
            "range": ["transparent", "#808080", "#808080", "transparent", "#808080", "#808080", "transparent", "transparent", "transparent"]
          },
          "legend": {
            "orient": "none",
            "legendX": 775,
            "legendY": 216,
            "title": null,
            "direction": "vertical",
            "padding": 0,
            "symbolType": "M-1.17,-1.02H1.17V1.02H-1.17Z",
            "symbolSize": 324,
            "symbolStrokeWidth": 0,
            "symbolOpacity": 1,
            "symbolOffset": 92,
            "rowPadding": -1.6,
            "labelOffset": -93,
            "labelFontSize": 13,
            "labelColor": "black",
            "labelLimit": 300
          }
        }
      }
    }
  ]
}
